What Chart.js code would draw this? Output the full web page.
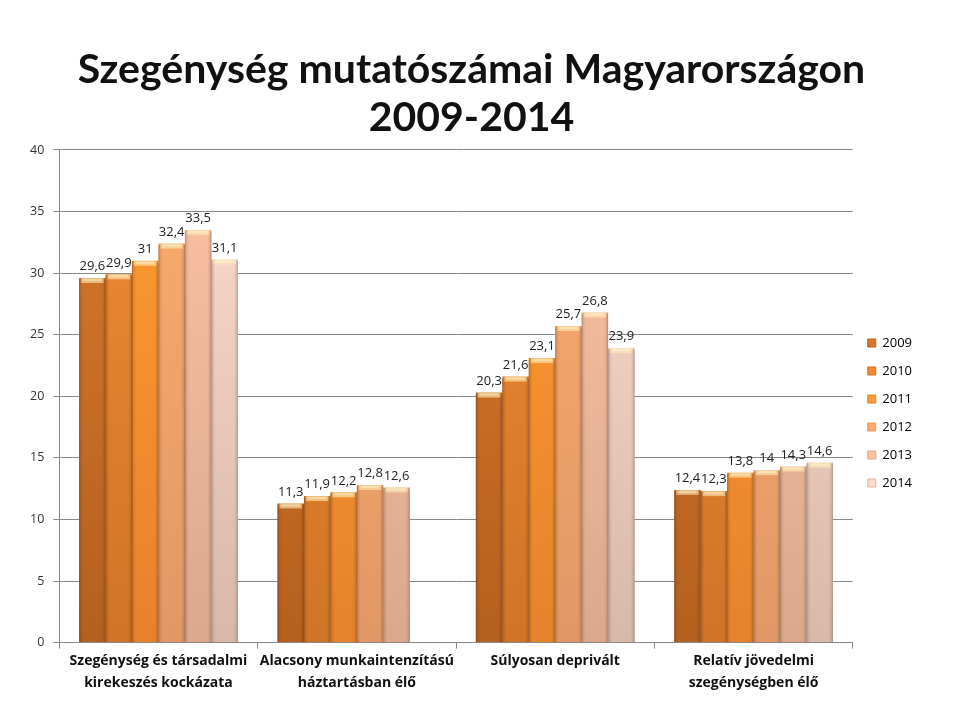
<!DOCTYPE html>
<html>
<head>
<meta charset="utf-8">
<script src="https://cdn.jsdelivr.net/npm/chart.js@4/dist/chart.umd.min.js"></script>
<style>
  html, body { margin: 0; padding: 0; background: #fff; }
  #wrap { width: 960px; height: 720px; }
</style>
</head>
<body>
<div id="wrap"><canvas id="myChart" width="960" height="720"></canvas></div>
<script>
'use strict';

// DATA
let categories = [
  ['Szegénység és társadalmi', 'kirekeszés kockázata'],
  ['Alacsony munkaintenzítású', 'háztartásban élő'],
  ['Súlyosan deprivált'],
  ['Relatív jövedelmi', 'szegénységben élő']
];
let years = ['2009', '2010', '2011', '2012', '2013', '2014'];
let v2009 = [29.6, 11.3, 20.3, 12.4];
let v2010 = [29.9, 11.9, 21.6, 12.3];
let v2011 = [31, 12.2, 23.1, 13.8];
let v2012 = [32.4, 12.8, 25.7, 14];
let v2013 = [33.5, 12.6, 26.8, 14.3];
let v2014 = [31.1, null, 23.9, 14.6];
let yTicks = [0, 5, 10, 15, 20, 25, 30, 35, 40];

let allValues = [v2009, v2010, v2011, v2012, v2013, v2014];

// colours: top / bottom of each bar
let topColors = ['#d8782c', '#ee8a34', '#ff9b30', '#fbac6c', '#fcc2a2', '#fddbcd'];
let bottomColors = ['#b4601e', '#d07426', '#e6822c', '#e29866', '#dba88e', '#d8b8a8'];
let edgeColors = ['#8c4a18', '#9c5420', '#a65a1c', '#a8704c', '#a88272', '#a89088'];

function barGradient(i) {
  return function (context) {
    let chart = context.chart;
    let area = chart.chartArea;
    if (!area) {
      return topColors[i];
    }
    let g = chart.ctx.createLinearGradient(0, area.top, 0, area.bottom);
    g.addColorStop(0, topColors[i]);
    g.addColorStop(1, bottomColors[i]);
    return g;
  };
}

let datasets = [];
for (let i = 0; i < years.length; i++) {
  datasets.push({
    label: years[i],
    data: allValues[i],
    backgroundColor: barGradient(i),
    borderWidth: 0,
    categoryPercentage: 0.8,
    barPercentage: 1.0
  });
}

// bevel look + value labels over each bar
const barDecor = {
  id: 'barDecor',
  afterLayout(chart) {
    // legend sits a bit lower than centred in the original
    chart.legend.top += 60;
    chart.legend.bottom += 60;
  },
  afterDatasetsDraw(chart) {
    let ctx = chart.ctx;
    chart.data.datasets.forEach(function (ds, di) {
      let meta = chart.getDatasetMeta(di);
      meta.data.forEach(function (bar, idx) {
        let val = ds.data[idx];
        if (val === null || val === undefined) return;
        let left = bar.x - bar.width / 2;
        let w = bar.width;
        let h = bar.base - bar.y;
        ctx.save();
        // side shading
        let sg = ctx.createLinearGradient(left, 0, left + w, 0);
        sg.addColorStop(0, 'rgba(60,20,0,0.16)');
        sg.addColorStop(0.15, 'rgba(0,0,0,0)');
        sg.addColorStop(0.85, 'rgba(0,0,0,0)');
        sg.addColorStop(1, 'rgba(60,20,0,0.16)');
        ctx.fillStyle = sg;
        ctx.fillRect(left, bar.y, w, h);
        // thin edges
        ctx.strokeStyle = edgeColors[di];
        ctx.globalAlpha = 0.6;
        ctx.lineWidth = 1;
        ctx.beginPath();
        ctx.moveTo(left + 0.5, bar.y + 2);
        ctx.lineTo(left + 0.5, bar.base);
        ctx.moveTo(left + w - 0.5, bar.y + 2);
        ctx.lineTo(left + w - 0.5, bar.base);
        ctx.stroke();
        ctx.globalAlpha = 1;
        // top highlight
        ctx.fillStyle = 'rgba(255,235,180,0.6)';
        ctx.fillRect(left + 2, bar.y, w - 4, 5);
        ctx.fillStyle = 'rgba(255,255,230,0.4)';
        ctx.fillRect(left + 4, bar.y + 1, w - 8, 2);
        ctx.restore();

        ctx.save();
        ctx.font = '13px "Open Sans", sans-serif';
        ctx.fillStyle = '#222';
        ctx.textAlign = 'center';
        ctx.textBaseline = 'bottom';
        ctx.fillText(String(val).replace('.', ','), bar.x, bar.y - 5);
        ctx.restore();
      });
    });
  }
};

const config = {
  type: 'bar',
  data: {
    labels: categories,
    datasets: datasets
  },
  options: {
    responsive: false,
    animation: false,
    layout: {
      padding: { left: 21, right: 38, top: 10, bottom: 24 }
    },
    plugins: {
      title: {
        display: true,
        text: ['Szegénység mutatószámai Magyarországon', '2009-2014'],
        color: '#111',
        font: { family: 'Lato, sans-serif', size: 41, weight: 'bold', lineHeight: 1.17 },
        padding: { top: 36, bottom: 8 }
      },
      legend: {
        position: 'right',
        align: 'center',
        labels: {
          boxWidth: 8,
          boxHeight: 8,
          padding: 15,
          color: '#222',
          font: { family: '"Open Sans", sans-serif', size: 13 },
          generateLabels: function (chart) {
            return years.map(function (y, i) {
              return {
                text: y,
                fillStyle: topColors[i],
                strokeStyle: bottomColors[i],
                lineWidth: 1,
                datasetIndex: i
              };
            });
          }
        }
      },
      tooltip: { enabled: false }
    },
    scales: {
      x: {
        grid: {
          display: true,
          drawOnChartArea: false,
          drawTicks: true,
          tickLength: 6,
          color: '#888'
        },
        border: { color: '#888' },
        ticks: {
          color: '#111',
          maxRotation: 0,
          font: { family: '"Open Sans", sans-serif', size: 14, weight: 'bold', lineHeight: 1.55 },
          padding: 2
        }
      },
      y: {
        min: 0,
        max: 40,
        afterBuildTicks: function (axis) {
          axis.ticks = yTicks.map(function (v) { return { value: v }; });
        },
        grid: {
          color: '#888',
          tickLength: 6
        },
        border: { color: '#888' },
        ticks: {
          color: '#333',
          font: { family: '"Open Sans", sans-serif', size: 12.5 },
          padding: 9
        }
      }
    }
  },
  plugins: [barDecor]
};

const myChart = new Chart(document.getElementById('myChart'), config);
</script>
</body>
</html>
